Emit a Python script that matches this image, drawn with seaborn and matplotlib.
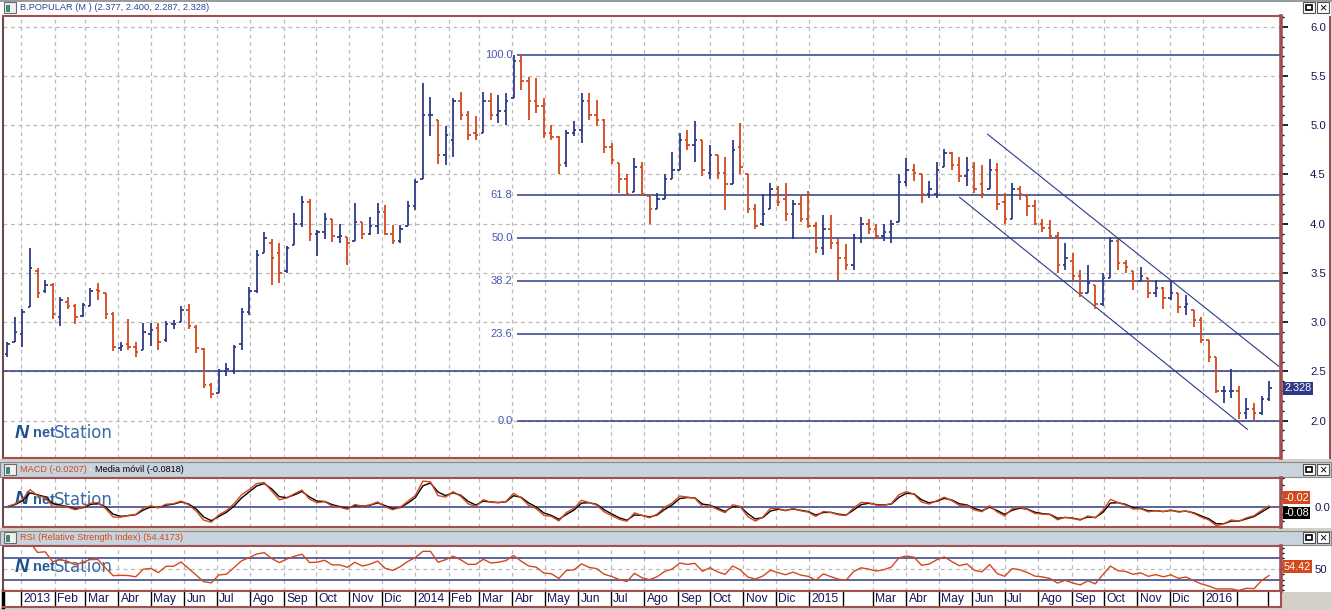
import numpy as np
import pandas as pd
import matplotlib
matplotlib.use('Agg')
import matplotlib.pyplot as plt
import matplotlib.dates as mdates
from matplotlib.patches import Rectangle
from matplotlib.ticker import MultipleLocator, FormatStrFormatter
import seaborn as sns

# weekly OHLC bars (weeks ending on Friday, first one 2012-12-21)
first_week = '2012-12-21'
opens = [2.68, 2.80, 2.88, 3.15, 3.52, 3.32, 3.38, 3.05, 3.20, 3.16, 3.06, 3.16,
         3.33, 3.30, 3.08, 2.74, 2.78, 2.75, 2.72, 2.88, 2.94, 2.82, 2.98, 3.00,
         3.12, 2.95, 2.73, 2.36, 2.28, 2.50, 2.50, 2.78, 3.10, 3.32, 3.70, 3.80,
         3.70, 3.52, 3.78, 4.00, 4.22, 3.90, 3.92, 4.05, 3.87, 3.86, 3.82, 4.02,
         3.90, 3.98, 4.12, 3.90, 3.82, 3.98, 4.18, 4.45, 5.10, 5.05, 4.70, 4.85,
         5.25, 5.10, 4.92, 4.92, 5.25, 5.10, 5.15, 5.28, 5.65, 5.45, 5.25, 5.20,
         4.92, 4.88, 4.62, 4.92, 4.95, 5.25, 5.10, 5.05, 4.78, 4.62, 4.45, 4.32,
         4.58, 4.28, 4.15, 4.25, 4.45, 4.55, 4.85, 4.80, 4.85, 4.52, 4.70, 4.52,
         4.40, 4.78, 4.50, 4.15, 4.00, 4.15, 4.35, 4.25, 4.10, 4.20, 4.05, 3.98,
         3.75, 3.95, 3.80, 3.65, 3.58, 3.85, 4.00, 3.95, 3.88, 3.92, 4.02, 4.42,
         4.55, 4.50, 4.30, 4.30, 4.58, 4.72, 4.60, 4.48, 4.58, 4.40, 4.35, 4.55,
         4.22, 4.05, 4.35, 4.28, 4.18, 4.00, 3.96, 3.88, 3.58, 3.62, 3.47, 3.30,
         3.38, 3.18, 3.45, 3.82, 3.60, 3.52, 3.42, 3.45, 3.30, 3.35, 3.25, 3.30,
         3.15, 3.12, 3.02, 2.82, 2.65, 2.30, 2.30, 2.30, 2.08, 2.12, 2.08, 2.22]
highs = [2.80, 3.05, 3.13, 3.75, 3.55, 3.43, 3.40, 3.26, 3.26, 3.18, 3.19, 3.35,
         3.40, 3.30, 3.10, 2.80, 3.03, 2.80, 2.99, 2.99, 2.99, 3.01, 3.02, 3.16,
         3.18, 2.97, 2.74, 2.38, 2.52, 2.58, 2.77, 3.14, 3.36, 3.73, 3.92, 3.84,
         3.80, 3.77, 4.11, 4.28, 4.25, 3.94, 4.11, 4.05, 4.00, 3.86, 4.21, 4.02,
         4.07, 4.21, 4.19, 3.99, 3.99, 4.23, 4.45, 5.43, 5.29, 5.05, 4.99, 5.28,
         5.34, 5.14, 5.09, 5.34, 5.33, 5.31, 5.33, 5.71, 5.72, 5.49, 5.48, 5.28,
         5.00, 4.89, 4.95, 5.04, 5.33, 5.33, 5.26, 5.06, 4.82, 4.62, 4.51, 4.67,
         4.63, 4.28, 4.31, 4.50, 4.73, 4.92, 4.95, 5.04, 4.85, 4.80, 4.70, 4.68,
         4.85, 5.02, 4.50, 4.20, 4.30, 4.41, 4.38, 4.41, 4.24, 4.29, 4.33, 4.02,
         4.09, 4.09, 3.84, 3.79, 3.90, 4.07, 4.05, 4.00, 4.00, 4.04, 4.50, 4.67,
         4.61, 4.50, 4.43, 4.63, 4.76, 4.73, 4.68, 4.68, 4.63, 4.60, 4.66, 4.62,
         4.31, 4.41, 4.38, 4.29, 4.24, 4.05, 4.04, 3.92, 3.80, 3.70, 3.53, 3.58,
         3.38, 3.50, 3.87, 3.84, 3.63, 3.52, 3.56, 3.45, 3.43, 3.36, 3.43, 3.30,
         3.28, 3.12, 3.05, 2.82, 2.65, 2.35, 2.52, 2.35, 2.23, 2.18, 2.25, 2.40]
lows = [2.65, 2.80, 2.75, 3.15, 3.25, 3.30, 3.03, 2.96, 3.13, 2.98, 3.05, 3.16,
        3.23, 3.03, 2.71, 2.71, 2.72, 2.65, 2.72, 2.76, 2.72, 2.80, 2.93, 3.00,
        2.93, 2.69, 2.33, 2.23, 2.28, 2.45, 2.47, 2.72, 3.07, 3.30, 3.70, 3.38,
        3.40, 3.50, 3.78, 3.97, 3.82, 3.67, 3.84, 3.81, 3.80, 3.58, 3.82, 3.84,
        3.89, 3.90, 3.89, 3.79, 3.80, 3.98, 4.14, 4.45, 4.89, 4.61, 4.60, 4.68,
        5.05, 4.85, 4.85, 4.92, 5.05, 5.02, 5.00, 5.28, 5.36, 5.05, 5.12, 4.87,
        4.85, 4.51, 4.58, 4.89, 4.82, 5.05, 4.99, 4.72, 4.61, 4.31, 4.28, 4.32,
        4.28, 4.00, 4.15, 4.25, 4.45, 4.55, 4.75, 4.63, 4.48, 4.45, 4.45, 4.14,
        4.40, 4.51, 4.11, 3.95, 3.98, 4.15, 4.18, 4.03, 3.84, 4.02, 3.96, 3.70,
        3.68, 3.74, 3.43, 3.53, 3.53, 3.80, 3.90, 3.84, 3.82, 3.80, 4.02, 4.38,
        4.43, 4.21, 4.26, 4.26, 4.58, 4.55, 4.42, 4.38, 4.31, 4.26, 4.35, 4.14,
        4.00, 4.05, 4.24, 4.08, 3.99, 3.92, 3.84, 3.50, 3.53, 3.43, 3.26, 3.30,
        3.13, 3.16, 3.45, 3.53, 3.50, 3.33, 3.42, 3.25, 3.26, 3.13, 3.23, 3.09,
        3.07, 2.95, 2.79, 2.60, 2.28, 2.18, 2.23, 2.02, 2.02, 2.01, 2.06, 2.20]
closes = [2.78, 2.90, 3.10, 3.55, 3.30, 3.38, 3.08, 3.22, 3.16, 3.05, 3.17, 3.32,
          3.32, 3.08, 2.75, 2.76, 2.75, 2.70, 2.90, 2.92, 2.80, 2.98, 2.98, 3.12,
          2.96, 2.74, 2.36, 2.27, 2.50, 2.52, 2.75, 3.10, 3.32, 3.68, 3.85, 3.65,
          3.50, 3.75, 4.00, 4.22, 3.90, 3.92, 4.05, 3.88, 3.88, 3.80, 4.02, 3.90,
          3.98, 4.12, 3.90, 3.82, 3.95, 4.18, 4.42, 5.10, 5.10, 4.70, 4.90, 5.25,
          5.10, 4.90, 4.90, 5.25, 5.10, 5.15, 5.25, 5.65, 5.45, 5.25, 5.20, 4.92,
          4.88, 4.60, 4.92, 4.95, 5.25, 5.10, 5.05, 4.78, 4.65, 4.45, 4.30, 4.58,
          4.30, 4.15, 4.25, 4.45, 4.55, 4.85, 4.80, 4.85, 4.55, 4.70, 4.52, 4.40,
          4.75, 4.58, 4.15, 3.98, 4.10, 4.35, 4.22, 4.10, 4.20, 4.05, 3.98, 3.75,
          3.95, 3.80, 3.65, 3.58, 3.85, 4.00, 3.95, 3.88, 3.92, 4.00, 4.42, 4.55,
          4.52, 4.30, 4.35, 4.55, 4.72, 4.60, 4.48, 4.55, 4.35, 4.30, 4.55, 4.20,
          4.05, 4.35, 4.30, 4.18, 4.00, 3.96, 3.88, 3.58, 3.65, 3.47, 3.30, 3.40,
          3.18, 3.45, 3.82, 3.60, 3.56, 3.42, 3.47, 3.30, 3.35, 3.25, 3.30, 3.15,
          3.18, 3.02, 2.82, 2.65, 2.30, 2.30, 2.30, 2.08, 2.12, 2.08, 2.22, 2.328]

# drawing tools on the price chart
fib_high = 5.716
fib_low = 2.0
fib_levels = [100.0, 61.8, 50.0, 38.2, 23.6, 0.0]
support_level = 2.5
upper_channel_dates = ['2015-06-15', '2016-03-11']
upper_channel_vals = [4.91, 2.55]
lower_channel_dates = ['2015-05-20', '2016-02-11']
lower_channel_vals = [4.27, 1.91]

# values printed in the headers / tags
last_bar = (2.377, 2.400, 2.287, 2.328)
macd_value = -0.0207
signal_value = -0.0818
rsi_value = 54.4173

month_abbr = ['Ene', 'Feb', 'Mar', 'Abr', 'May', 'Jun', 'Jul', 'Ago', 'Sep', 'Oct', 'Nov', 'Dic']
unlabeled_months = ['2015-02', '2016-02', '2016-03']

navy = '#2e3a87'
red = '#d2491c'
maroon = '#a14f4f'
grid_c = '#b9b9b9'
header_c = '#c9d3de'
text_c = '#16165a'

sns.set_theme(style='white')
plt.rcParams['font.family'] = ['Liberation Sans', 'DejaVu Sans']

W, H = 1332, 610


def fig_box(x0, y0, x1, y1):
    return [x0 / W, 1 - y1 / H, (x1 - x0) / W, (y1 - y0) / H]


def fig_rect(x0, y0, x1, y1, **kw):
    r = Rectangle((x0 / W, 1 - y1 / H), (x1 - x0) / W, (y1 - y0) / H,
                  transform=fig.transFigure, **kw)
    fig.add_artist(r)
    return r


fig = plt.figure(figsize=(W / 100, H / 100), dpi=100, facecolor='#d4d0c8')

# panel backgrounds
fig_rect(0, 2, 1331, 459, fc='white', ec='none', zorder=-2)
fig_rect(0, 477, 1331, 528, fc='white', ec='none', zorder=-2)
fig_rect(0, 545, 1331, 592, fc='white', ec='none', zorder=-2)
fig_rect(0, 591, 1281, 608, fc='white', ec='none', zorder=-2)
fig_rect(0, 462, 1331, 477, fc=header_c, ec='#8a8a8a', lw=0.8, zorder=-1)
fig_rect(0, 531, 1331, 545, fc=header_c, ec='#8a8a8a', lw=0.8, zorder=-1)
fig_rect(1329, 16, 1331, 459, fc=maroon, ec='none', zorder=4)


def header_icon(y):
    fig_rect(4, y - 6, 16, y + 5, fc='#f0f0f0', ec='#6a6a6a', lw=0.8, zorder=5)
    fig_rect(6, y - 3, 10, y + 4, fc='#3e8a70', ec='none', zorder=6)


def header_buttons(y):
    fig_rect(1303, y - 6, 1315, y + 5, fc='white', ec='#505050', lw=0.8, zorder=5)
    fig_rect(1306, y - 3, 1312, y + 2, fc='none', ec='black', lw=1.2, zorder=6)
    fig_rect(1317, y - 6, 1329, y + 5, fc='white', ec='#505050', lw=0.8, zorder=5)
    fig.text(1323 / W, 1 - y / H, '×', fontsize=9, ha='center', va='center', color='black', zorder=6)


header_icon(8)
header_buttons(8)
header_icon(470)
header_buttons(470)
header_icon(538)
header_buttons(538)
fig_rect(0, 0, 1332, 2, fc='#9a9a9a', ec='none', zorder=5)

fig.text(20 / W, 1 - 8 / H, 'B.POPULAR (M ) (%.3f, %.3f, %.3f, %.3f)' % last_bar,
         color='#34449a', fontsize=6.7, va='center')
fig.text(20 / W, 1 - 470 / H, 'MACD (%.4f)' % macd_value, color=red, fontsize=6.6, va='center')
fig.text(89 / W, 1 - 470 / H, '-', color='white', fontsize=6.6, va='center')
fig.text(95 / W, 1 - 470 / H, 'Media móvil (%.4f)' % signal_value, color='black', fontsize=6.6, va='center')
fig.text(20 / W, 1 - 538 / H, 'RSI (Relative Strength Index) (%.4f)' % rsi_value,
         color=red, fontsize=6.7, va='center')

# data in date coordinates
dates = pd.date_range(first_week, periods=len(closes), freq='W-FRI')
x = mdates.date2num(dates - pd.Timedelta(days=2))
o = np.array(opens)
h = np.array(highs)
l = np.array(lows)
c = np.array(closes)
xmin = mdates.date2num(pd.Timestamp('2012-12-15'))
xmax = mdates.date2num(pd.Timestamp('2016-03-13'))

months = pd.date_range('2013-01-01', '2016-03-01', freq='MS')
month_x = mdates.date2num(months)
month_labels = []
for m in months:
    if m.strftime('%Y-%m') in unlabeled_months:
        month_labels.append('')
    elif m.month == 1:
        month_labels.append(str(m.year))
    else:
        month_labels.append(month_abbr[m.month - 1])

# indicators computed from the weekly closes
close_s = pd.Series(c, index=dates)
macd = close_s.ewm(span=12 / 5, adjust=False).mean() - close_s.ewm(span=26 / 5, adjust=False).mean()
signal = macd.ewm(span=9 / 5, adjust=False).mean()
delta = close_s.diff()
# weekly bars hide the intra-week ups and downs, so RSI gets a longer smoothing
gain = delta.clip(lower=0).ewm(alpha=1 / 7, adjust=False).mean()
loss = (-delta.clip(upper=0)).ewm(alpha=1 / 7, adjust=False).mean()
rsi = 100 - 100 / (1 + gain / loss)


def style_panel(ax, pad=16):
    ax.set_facecolor('white')
    ax.set_xlim(xmin, xmax)
    for side in ['top', 'bottom', 'left']:
        ax.spines[side].set_color(maroon)
        ax.spines[side].set_linewidth(1.5)
    ax.spines['left'].set_color('#6a4a4a')
    ax.spines['right'].set_color(maroon)
    ax.spines['right'].set_linewidth(2.6)
    ax.tick_params(axis='x', bottom=False, labelbottom=False)
    ax.tick_params(axis='y', which='both', left=False, labelleft=False,
                   right=True, labelright=True, direction='out', color='black')
    ax.tick_params(axis='y', which='major', length=5, width=1.2, pad=pad,
                   labelsize=8.2, labelcolor=text_c)
    ax.tick_params(axis='y', which='minor', length=2.5, width=1.0)
    for mx, lab in zip(month_x, month_labels):
        if lab:
            ax.axvline(mx, color=grid_c, lw=0.9, ls=(0, (3, 3)), zorder=0.5)


def watermark(ax, y):
    ax.text(15 / W, 1 - y / H, 'N', transform=fig.transFigure, fontsize=14, fontweight='bold',
            fontstyle='italic', color='#1d4f8f', va='center', zorder=0.6)
    ax.text(33 / W, 1 - y / H, 'net', transform=fig.transFigure, fontsize=10.5, fontweight='bold',
            color='#2a5d9a', va='center', zorder=0.6)
    ax.text(54 / W, 1 - y / H, 'Station', transform=fig.transFigure, fontsize=12,
            family='DejaVu Sans', color='#3a6aa8', va='center', zorder=0.6)


def value_tag(ax, text, y, colour, dy=0):
    ax.annotate(text, xy=(1.0, y), xycoords=('axes fraction', 'data'),
                xytext=(2.2, dy), textcoords='offset points', ha='left', va='center',
                color='white', fontsize=7.8, annotation_clip=False,
                bbox=dict(boxstyle='square,pad=0.12', fc=colour, ec='none'))


# ---- price panel
ax = fig.add_axes(fig_box(3, 16, 1281, 458))
style_panel(ax)
ax.set_ylim(1.62, 6.11)
ax.yaxis.set_major_locator(MultipleLocator(0.5))
ax.yaxis.set_minor_locator(MultipleLocator(0.1))
ax.yaxis.set_major_formatter(FormatStrFormatter('%.1f'))
ax.grid(axis='y', which='major', color=grid_c, lw=0.9, ls=(0, (3, 3)))
ax.set_axisbelow(True)
watermark(ax, 433)

cols = np.where(c >= o, navy, red)
ax.vlines(x, l, h, colors=cols, lw=1.3, zorder=3)
ax.hlines(o, x - 2.3, x, colors=cols, lw=1.3, zorder=3)
ax.hlines(c, x, x + 2.3, colors=cols, lw=1.3, zorder=3)

ax.axhline(support_level, color=navy, lw=1.1, zorder=2)
fib_start = x[int(np.argmax(h))] - 4
for lvl in fib_levels:
    v = fib_low + lvl / 100 * (fib_high - fib_low)
    ax.hlines(v, fib_start, xmax, color=navy, lw=1.1, zorder=2)
    ax.annotate('%.1f' % lvl, (fib_start, v), xytext=(-3, 0), textcoords='offset points',
                ha='right', va='center', color='#4756b0', fontsize=8)
ax.plot(mdates.date2num(pd.to_datetime(upper_channel_dates)), upper_channel_vals, color=navy, lw=0.8, zorder=2)
ax.plot(mdates.date2num(pd.to_datetime(lower_channel_dates)), lower_channel_vals, color=navy, lw=0.8, zorder=2)
value_tag(ax, '%.3f' % c[-1], c[-1], navy)

# ---- MACD panel
ax_m = fig.add_axes(fig_box(3, 478, 1281, 527))
style_panel(ax_m, pad=19)
hi = max(macd.max(), signal.max()) * 1.12
ax_m.set_ylim(-hi * 20 / 28, hi)
ax_m.set_yticks([0])
ax_m.yaxis.set_major_formatter(FormatStrFormatter('%.1f'))
ax_m.yaxis.set_minor_locator(MultipleLocator(hi / 4))
watermark(ax_m, 500)
ax_m.axhline(0, color=navy, lw=1.1, zorder=1)
sns.lineplot(x=x, y=signal.values, ax=ax_m, color='black', lw=1.0, zorder=2)
sns.lineplot(x=x, y=macd.values, ax=ax_m, color=red, lw=1.0, zorder=3)
value_tag(ax_m, '%.2f' % macd_value, 0, red, dy=6.5)
value_tag(ax_m, '%.2f' % signal_value, 0, 'black', dy=-4.5)

# ---- RSI panel
ax_r = fig.add_axes(fig_box(3, 546, 1281, 591))
style_panel(ax_r, pad=19)
ax_r.set_ylim(9, 93)
ax_r.set_yticks([50])
ax_r.yaxis.set_minor_locator(MultipleLocator(10))
watermark(ax_r, 567)
ax_r.axhline(70, color=navy, lw=1.1, zorder=1)
ax_r.axhline(30, color=navy, lw=1.1, zorder=1)
ax_r.axhline(50, color=grid_c, lw=0.9, ls=(0, (3, 3)), zorder=0.5)
sns.lineplot(x=x, y=rsi.values, ax=ax_r, color=red, lw=1.0, zorder=3)
value_tag(ax_r, '%.2f' % rsi_value, rsi_value, red)

# ---- date strip
ax_d = fig.add_axes(fig_box(3, 591, 1281, 607))
ax_d.set_facecolor('white')
ax_d.set_xlim(xmin, xmax)
ax_d.set_ylim(0, 1)
ax_d.set_xticks([])
ax_d.set_yticks([])
for side in ['top', 'bottom', 'right']:
    ax_d.spines[side].set_color(maroon)
    ax_d.spines[side].set_linewidth(1.5)
ax_d.spines['left'].set_color('black')
ax_d.spines['left'].set_linewidth(2.5)
for mx, lab in zip(month_x, month_labels):
    ax_d.axvline(mx, color='black', lw=1.0)
    if lab:
        ax_d.annotate(lab, (mx, 0.5), xycoords=('data', 'axes fraction'), xytext=(1.8, 0),
                      textcoords='offset points', ha='left', va='center',
                      fontsize=8.7, color=text_c)

fig.savefig('out.png', dpi=100, facecolor=fig.get_facecolor())
